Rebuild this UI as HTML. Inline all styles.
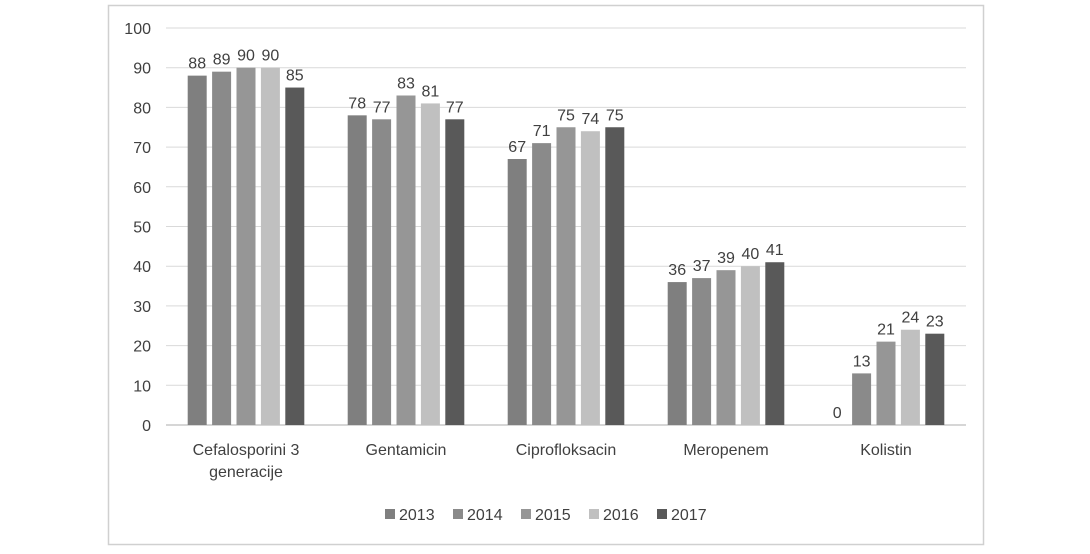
<!DOCTYPE html>
<html><head><meta charset="utf-8"><style>
body{margin:0;background:#fff;}
text{font-family:"Liberation Sans",sans-serif;fill:#404040;}
</style></head><body>
<svg width="1090" height="549">
<rect x="108.5" y="5.5" width="875" height="539" fill="#fff" stroke="#d0d0d0" stroke-width="1.5"/>
<g id="g"></g>
</svg>
<script>
const categories=[["Cefalosporini 3","generacije"],["Gentamicin"],["Ciprofloksacin"],["Meropenem"],["Kolistin"]];
const years=["2013","2014","2015","2016","2017"];
const s2013=[88,78,67,36,0];
const s2014=[89,77,71,37,13];
const s2015=[90,83,75,39,21];
const s2016=[90,81,74,40,24];
const s2017=[85,77,75,41,23];
const ticks=[0,10,20,30,40,50,60,70,80,90,100];
const series=[s2013,s2014,s2015,s2016,s2017];
const colors=["#7f7f7f","#8a8a8a","#969696","#c0c0c0","#595959"];
const ns="http://www.w3.org/2000/svg",g=document.getElementById('g');
const x0=166,x1=966,yb=425,yt=28;
const y=v=>yb-(v/100)*(yb-yt);
const gw=(x1-x0)/categories.length;
function mk(t,a,txt){const e=document.createElementNS(ns,t);for(const k in a)e.setAttribute(k,a[k]);if(txt!=null)e.textContent=txt;g.appendChild(e);return e;}
ticks.forEach(t=>{
 const l=mk('line',{x1:x0,x2:x1,y1:y(t),y2:y(t),stroke:t===0?'#c8c8c8':'#d9d9d9','stroke-width':t===0?1.5:1});
 
 
 const tx=mk('text',{x:151,y:y(t)+6,'text-anchor':'end','font-size':16},t);
 
 
});
const bw=19,step=24.4;
categories.forEach((c,i)=>{
 const cx=x0+gw*(i+0.5);
 series.forEach((s,j)=>{
  const bx=cx-2*step-bw/2+j*step;
  const r=mk('rect',{x:bx,y:y(s[i]),width:bw,height:yb-y(s[i]),fill:colors[j]});
  
  
  const t=mk('text',{x:bx+bw/2,y:y(s[i])-7,'text-anchor':'middle','font-size':16},s[i]);
  
  
 });
 c.forEach((ln,k)=>{
  const t=mk('text',{x:cx,y:455+k*22,'text-anchor':'middle','font-size':16},ln);
  
  
 });
});
const lx=[385,453,521,589,657];
years.forEach((yr,j)=>{
 const r=mk('rect',{x:lx[j],y:509,width:10,height:10,fill:colors[j]});
 
 
 const t=mk('text',{x:lx[j]+14,y:520,'font-size':16},yr);
 
 
});
</script>
</body></html>
